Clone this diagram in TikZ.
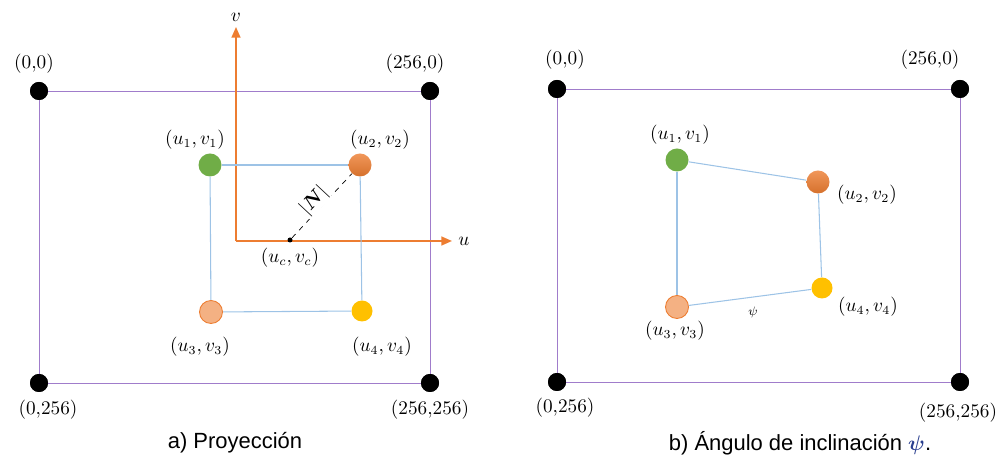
\documentclass[tikz,border=0pt]{standalone}
\usepackage{bm}
\usepackage{fontspec}
\setsansfont{Liberation Sans}
\usetikzlibrary{arrows.meta,positioning}
\definecolor{frame}{HTML}{A07CCB}
\definecolor{link}{HTML}{9DC3E6}
\definecolor{axis}{HTML}{ED7D31}
\definecolor{ptgreen}{HTML}{70AD47}
\definecolor{ptorange}{HTML}{ED7D31}
\definecolor{ptsalmon}{HTML}{F4B183}
\definecolor{ptyellow}{HTML}{FFC000}
\definecolor{psiblue}{HTML}{2A3F8F}
\tikzset{
  corner/.style={circle, fill=black, inner sep=0pt, minimum size=0.36cm},
  pt/.style={circle, inner sep=0pt, minimum size=0.46cm},
  lbl/.style={font=\fontsize{10.5}{12}\selectfont},
  caption/.style={font=\sffamily\fontsize{12.5}{15}\selectfont},
  frameline/.style={draw=frame, line width=0.5pt},
  linkline/.style={draw=link, line width=0.6pt},
  axisline/.style={draw=axis, line width=1pt, -{Triangle[length=6pt,width=5pt]}}
}

\begin{document}
\begin{tikzpicture}
\useasboundingbox (0,0) rectangle (20.06,-9.28);

\node[corner] (a00) at (0.78,-1.82) {};
\node[corner] (a10) at (8.6,-1.82) {};
\node[corner] (a01) at (0.78,-7.66) {};
\node[corner] (a11) at (8.6,-7.66) {};
\draw[frameline] (a00.center) -- (a10.center) -- (a11.center) -- (a01.center) -- cycle;
\node[corner] at (a00) {};
\node[corner] at (a10) {};
\node[corner] at (a01) {};
\node[corner] at (a11) {};
\node[lbl] at (0.68,-1.28) {$(0{,}0)$};
\node[lbl] at (8.3,-1.28) {$(256{,}0)$};
\node[lbl] at (0.96,-8.2) {$(0{,}256)$};
\node[lbl] at (8.6,-8.2) {$(256{,}256)$};

\coordinate (org) at (4.72,-4.82);
\coordinate (vend) at (4.72,-0.54);
\coordinate (uend) at (9.04,-4.82);
\draw[axisline] (org) -- (vend);
\draw[axisline] (org) -- (uend);
\node[lbl] at (4.72,-0.34) {$v$};
\node[lbl] at (9.28,-4.82) {$u$};

\node[pt, fill=ptgreen] (ga) at (4.2,-3.3) {};
\node[pt, top color=ptorange!80!white, bottom color=ptorange!90!black] (oa) at (7.2,-3.3) {};
\node[pt, fill=ptsalmon, draw=ptorange, line width=0.5pt] (sa) at (4.22,-6.24) {};
\node[pt, fill=ptyellow, minimum size=0.42cm] (ya) at (7.24,-6.22) {};
\draw[linkline] (ga) -- (oa);
\draw[linkline] (ga) -- (sa);
\draw[linkline] (oa) -- (ya);
\draw[linkline] (sa) -- (ya);
\node[circle, fill=black, inner sep=0pt, minimum size=0.1cm] (ctr) at (5.8,-4.8) {};
\draw[black, dashed, line width=0.4pt] (ctr) -- (oa);
\node[lbl, rotate=47, fill=white, inner sep=0.3pt] at (6.28,-4.02) {$|\bm{N}|$};
\node[lbl] at (5.8,-5.16) {$(u_c,v_c)$};
\node[lbl] at (3.9,-2.8) {$(u_1,v_1)$};
\node[lbl] at (7.6,-2.8) {$(u_2,v_2)$};
\node[lbl] at (4.0,-6.94) {$(u_3,v_3)$};
\node[lbl] at (7.64,-6.94) {$(u_4,v_4)$};

\node[corner] (b00) at (11.14,-1.78) {};
\node[corner] (b10) at (19.2,-1.78) {};
\node[corner] (b01) at (11.14,-7.64) {};
\node[corner] (b11) at (19.2,-7.64) {};
\draw[frameline] (b00.center) -- (b10.center) -- (b11.center) -- (b01.center) -- cycle;
\node[corner] at (b00) {};
\node[corner] at (b10) {};
\node[corner] at (b01) {};
\node[corner] at (b11) {};
\node[lbl] at (11.3,-1.2) {$(0{,}0)$};
\node[lbl] at (18.6,-1.2) {$(256{,}0)$};
\node[lbl] at (11.3,-8.16) {$(0{,}256)$};
\node[lbl] at (19.16,-8.26) {$(256{,}256)$};

\node[pt, fill=ptgreen] (gb) at (13.54,-3.2) {};
\node[pt, top color=ptorange!80!white, bottom color=ptorange!90!black] (ob) at (16.36,-3.64) {};
\node[pt, fill=ptyellow, minimum size=0.42cm] (yb) at (16.44,-5.76) {};
\node[pt, fill=ptsalmon, draw=ptorange, line width=0.5pt] (sb) at (13.54,-6.14) {};
\draw[linkline] (gb) -- (ob);
\draw[linkline] (gb) -- (sb);
\draw[linkline] (ob) -- (yb);
\draw[linkline] (sb) -- (yb);
\node[lbl] at (13.6,-2.7) {$(u_1,v_1)$};
\node[lbl] at (17.34,-3.9) {$(u_2,v_2)$};
\node[lbl] at (17.36,-6.14) {$(u_4,v_4)$};
\node[lbl] at (13.5,-6.62) {$(u_3,v_3)$};
\node[font=\fontsize{7}{8}\selectfont] at (15.06,-6.24) {$\psi$};

\node[caption] at (4.7,-8.86) {a) Proyección};
\node[caption] at (16.0,-8.86) {b) Ángulo de inclinación {\color{psiblue}$\bm{\psi}$}.};
\end{tikzpicture}
\end{document}
